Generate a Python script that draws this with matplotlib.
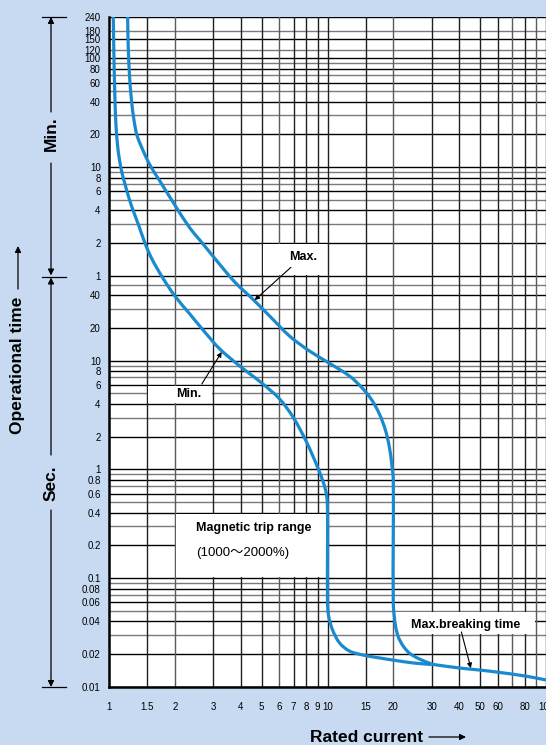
import numpy as np
import matplotlib
matplotlib.use("Agg")
import matplotlib.pyplot as plt
from matplotlib.patches import Rectangle, FancyArrowPatch, PathPatch
from matplotlib.path import Path

plt.rcParams['font.family'] = ['Liberation Sans', 'DejaVu Sans']

# Operating characteristic: current in multiples of rating, time in seconds
min_current = [1.046, 1.054, 1.065, 1.076, 1.094, 1.117, 1.147, 1.183, 1.234, 1.287,
               1.371, 1.460, 1.572, 1.764, 2.001, 2.344, 2.744, 3.212, 3.965, 4.996,
               6.037, 6.995, 8.017, 9.00, 9.59, 9.90, 10.0, 10.0, 10.1, 10.55,
               11.36, 12.6, 14.5, 17.3, 20.6, 24.9, 29.9]
min_time = [14400, 5790, 2485, 1464, 958.6, 698.2, 530.0, 420.1, 312.3, 242.2,
            172.7, 120.5, 85.9, 57.4, 39.3, 26.8, 18.3, 12.8, 8.92, 6.23,
            4.44, 2.97, 1.785, 1.052, 0.75, 0.582, 0.424, 0.063, 0.0459, 0.0334,
            0.0254, 0.0214, 0.0197, 0.0185, 0.0175, 0.0166, 0.0161]

max_current = [1.217, 1.224, 1.241, 1.267, 1.301, 1.342, 1.415, 1.539, 1.709, 2.001,
               2.344, 2.603, 3.146, 3.762, 4.546, 5.434, 6.706, 8.275, 10.21, 12.60,
               14.30, 15.88, 17.28, 18.41, 19.19, 19.70, 20.0, 20.0, 20.45, 21.1,
               22.2, 23.7, 26.3, 29.9]
max_time = [14400, 7958, 4217, 2485, 1627, 1184, 899.5, 627.9, 447.3, 269.2,
            165.5, 128.4, 80.6, 52.8, 36.8, 25.7, 16.8, 12.25, 9.45, 7.22,
            5.70, 4.40, 3.23, 2.30, 1.607, 1.097, 0.80, 0.06, 0.0371, 0.0288,
            0.0238, 0.0205, 0.0181, 0.0163]

# Maximum breaking time
brk_current = [29.9, 40.1, 50.0, 59.1, 80.2, 100.0]
brk_time = [0.0162, 0.01495, 0.0143, 0.01374, 0.01262, 0.0116]

# Time axis: seconds and minutes
sec_ticks = [0.01, 0.02, 0.04, 0.06, 0.08, 0.1, 0.2, 0.4, 0.6, 0.8,
             1, 2, 4, 6, 8, 10, 20, 40]
sec_labels = ['0.01', '0.02', '0.04', '0.06', '0.08', '0.1', '0.2', '0.4', '0.6', '0.8',
              '1', '2', '4', '6', '8', '10', '20', '40']
min_ticks = [1, 2, 4, 6, 8, 10, 20, 40, 60, 80, 100, 120, 150, 180, 240]
min_labels = ['1', '2', '4', '6', '8', '10', '20', '40', '60', '80',
              '100', '120', '150', '180', '240']

# Current axis
x_ticks = [1, 1.5, 2, 3, 4, 5, 6, 7, 8, 9, 10, 15, 20, 30, 40, 50, 60, 80, 100]
x_labels = ['1', '1.5', '2', '3', '4', '5', '6', '7', '8', '9', '10',
            '15', '20', '30', '40', '50', '60', '80', '100']
x_grid = [1.5, 2, 3, 4, 5, 6, 7, 8, 9, 10, 15, 20, 30, 40, 50, 60, 70, 80, 90, 100]

BG = '#c8daf2'
BLUE = '#1a8ace'

W, H = 546, 745
fig = plt.figure(figsize=(W / 100, H / 100), dpi=100, facecolor=BG)
ax = fig.add_axes([109 / W, 58 / H, 437 / W, 670 / H])
ax.set_facecolor('white')
ax.set_xscale('log')
ax.set_yscale('log')
ax.set_xlim(1, 100)
ax.set_ylim(0.01, 14400)


def smooth_curve(ax, xs, ys, **kw):
    """Draw a smooth Bezier curve through the given data points."""
    pts = ax.transData.transform(np.column_stack([xs, ys]))
    n = len(pts)
    tang = []
    for i in range(n):
        a = pts[max(i - 1, 0)]
        b = pts[min(i + 1, n - 1)]
        d = b - a
        L = np.hypot(*d)
        tang.append(d / L if L > 0 else np.zeros(2))
    verts = [pts[0]]
    codes = [Path.MOVETO]
    for i in range(n - 1):
        p1, p2 = pts[i], pts[i + 1]
        seg = np.hypot(*(p2 - p1)) / 3.0
        verts += [p1 + tang[i] * seg, p2 - tang[i + 1] * seg, p2]
        codes += [Path.CURVE4] * 3
    verts = ax.transData.inverted().transform(np.array(verts))
    patch = PathPatch(Path(verts, codes), transform=ax.transData,
                      facecolor='none', **kw)
    ax.add_patch(patch)
    return patch


# horizontal grid
labelled_sec = set(sec_ticks)
labelled_min = set(min_ticks)
sec_grid = []
for dec in [0.01, 0.1, 1, 10]:
    for m in range(1, 10):
        v = round(m * dec, 6)
        if v <= 50:
            sec_grid.append(v)
for v in sec_grid:
    c = 'black' if v in labelled_sec else '#7a7a7a'
    ax.axhline(v, color=c, lw=1.0, zorder=1)
min_grid = list(range(1, 10)) + list(range(10, 100, 10)) + [100, 120, 150, 180, 240]
for m in min_grid:
    c = 'black' if m in labelled_min and m not in (120, 180) else '#7a7a7a'
    ax.axhline(m * 60, color=c, lw=1.0, zorder=1)
for v in x_grid:
    c = '#5a5a5a' if v in (2, 6, 20, 70, 90) else '#202020'
    ax.axvline(v, color=c, lw=1.0, zorder=1)

# white panels behind the annotations
panels = [((2.02, 0.103), (9.9, 0.39)),      # magnetic trip range
          ((1.51, 4.1), (2.95, 5.9)),       # Min.
          ((5.05, 61), (9.9, 118)),          # Max.
          ((20.3, 0.031), (89, 0.049))]     # Max. breaking time
for (x0, y0), (x1, y1) in panels:
    ax.add_patch(Rectangle((x0, y0), x1 - x0, y1 - y0, facecolor='white',
                           edgecolor='none', zorder=2))

curve_kw = dict(edgecolor=BLUE, lw=2.3, zorder=3, capstyle='butt', joinstyle='round')
smooth_curve(ax, min_current, min_time, **curve_kw)
smooth_curve(ax, max_current, max_time, **curve_kw)
smooth_curve(ax, brk_current, brk_time, **curve_kw)

for s in ['top', 'right']:
    ax.spines[s].set_visible(False)
for s in ['left', 'bottom']:
    ax.spines[s].set_linewidth(1.8)
    ax.spines[s].set_zorder(5)

ax.set_xticks(x_ticks)
ax.set_xticklabels(x_labels, fontsize=7)
ax.xaxis.set_minor_locator(matplotlib.ticker.NullLocator())
ax.set_yticks(sec_ticks + [m * 60 for m in min_ticks])
ax.set_yticklabels(sec_labels + min_labels, fontsize=7)
ax.yaxis.set_minor_locator(matplotlib.ticker.NullLocator())
ax.tick_params(axis='both', length=0)
ax.tick_params(axis='x', pad=11)
ax.tick_params(axis='y', pad=6)

# curve annotations
arrow_kw = dict(arrowstyle='-|>', color='black', lw=0.8, mutation_scale=7,
                shrinkA=0, shrinkB=0)
ax.text(7.7, 90, 'Max.', fontsize=9, fontweight='bold', ha='center', va='center', zorder=4)
ax.annotate('', xy=(4.64, 36), xytext=(6.8, 72), arrowprops=arrow_kw, zorder=4)
ax.text(2.32, 4.9, 'Min.', fontsize=9, fontweight='bold', ha='center', va='center', zorder=4)
ax.annotate('', xy=(3.28, 12.0), xytext=(2.66, 6.1), arrowprops=arrow_kw, zorder=4)
ax.text(4.6, 0.289, 'Magnetic trip range', fontsize=9, fontweight='bold',
        ha='center', va='center', zorder=4)
ax.text(4.1, 0.17, '(1000\uff5e2000%)', fontsize=9.5, ha='center', va='center',
        family=['Liberation Sans', 'Noto Sans CJK JP'], zorder=4)
ax.text(43, 0.0371, 'Max.breaking time', fontsize=9, fontweight='bold',
        ha='center', va='center', zorder=4)
ax.annotate('', xy=(45.3, 0.0149), xytext=(41, 0.032), arrowprops=arrow_kw, zorder=4)

# overlay in pixel coordinates for the axis captions
ov = fig.add_axes([0, 0, 1, 1])
ov.set_xlim(0, W)
ov.set_ylim(H, 0)
ov.axis('off')

bx = 51
head = dict(arrowstyle='-|>', color='black', lw=0.9, mutation_scale=9,
            shrinkA=0, shrinkB=0)
for y in (17, 276.5, 687):
    ov.plot([42, 66], [y, y], color='black', lw=0.9)
# Min. span
ov.add_patch(FancyArrowPatch((bx, 112), (bx, 17), **head))
ov.add_patch(FancyArrowPatch((bx, 163), (bx, 275.5), **head))
ov.text(bx, 134, 'Min.', rotation=90, fontsize=12.5, fontweight='bold',
        ha='center', va='center')
# Sec. span
ov.add_patch(FancyArrowPatch((bx, 455), (bx, 277.5), **head))
ov.add_patch(FancyArrowPatch((bx, 510), (bx, 687), **head))
ov.text(bx, 483, 'Sec.', rotation=90, fontsize=12.5, fontweight='bold',
        ha='center', va='center')

# axis titles with arrows
ov.text(18, 434, 'Operational time', rotation=90, fontsize=12.5, fontweight='bold',
        ha='center', va='bottom')
ov.add_patch(FancyArrowPatch((18, 289), (18, 246), **head))
ov.text(423, 737, 'Rated current', fontsize=12.5, fontweight='bold',
        ha='right', va='center')
ov.add_patch(FancyArrowPatch((429, 737), (466, 737), **head))

fig.savefig('out.png', dpi=100, facecolor=BG)
